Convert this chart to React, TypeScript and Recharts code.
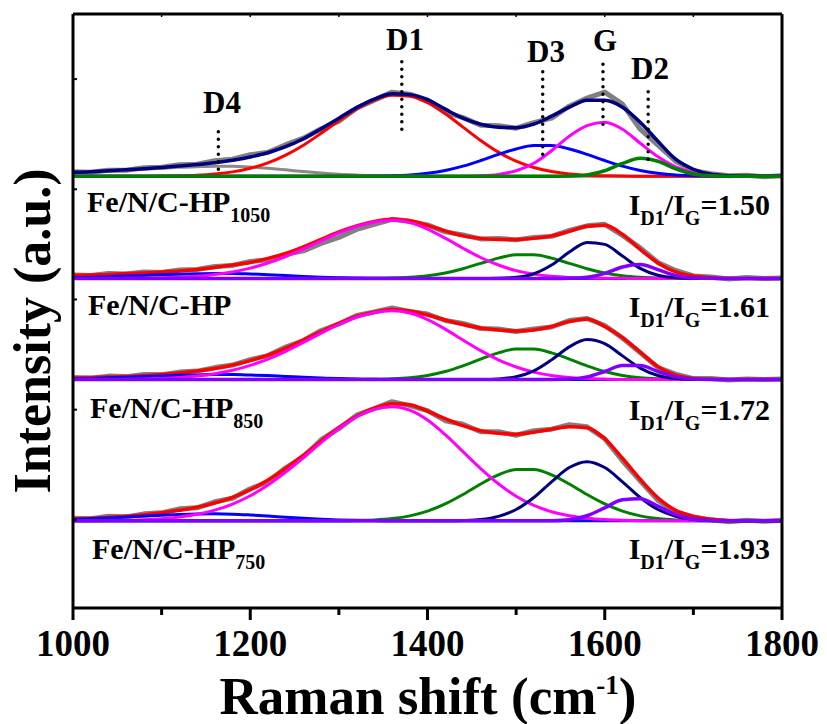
import { LineChart, Line, XAxis, YAxis, ReferenceLine } from "recharts"

// Raman shift grid (cm-1), one reading every 20 cm-1
const shift = [
  1000, 1020, 1040, 1060, 1080, 1100, 1120, 1140, 1160, 1180, 1200, 1220, 1240, 1260,
  1280, 1300, 1320, 1340, 1360, 1380, 1400, 1420, 1440, 1460, 1480, 1500, 1520, 1540,
  1560, 1580, 1600, 1620, 1640, 1660, 1680, 1700, 1720, 1740, 1760, 1780, 1800,
]

// Fe/N/C-HP1050
const hp1050Raw = [4.5, 4, 6, 6, 8.5, 9, 11.5, 12, 15.5, 17, 21.5, 24, 31.5, 38, 47.5, 55, 68, 76, 84, 82, 76, 64, 58.5, 51, 50.5, 48, 53.5, 58, 70, 78, 84, 72, 47, 31, 15, 5.5, 2.5, 0.5, 1, -0.5, 0.5]
const hp1050Fit = [4, 4.5, 5.5, 6.5, 7.5, 8.8, 10.2, 11.7, 13.5, 16, 19.3, 23.5, 29.5, 37.5, 47.5, 58, 68.5, 77, 82.5, 81.5, 76.5, 67, 58, 52, 49, 48.5, 52, 60, 69, 76, 76, 69, 54, 35, 17, 7, 2, 0.5, 0.1, 0, 0]
const hp1050D4 = [3, 4, 5, 6, 7, 8, 9, 9.6, 10, 10, 9.3, 8, 6.4, 4.7, 3.2, 2, 1.2, 0.6, 0.3, 0.1, 0, 0, 0, 0, 0, 0, 0, 0, 0, 0, 0, 0, 0, 0, 0, 0, 0, 0, 0, 0, 0]
const hp1050D1 = [0, 0, 0, 0, 0.1, 0.2, 0.5, 1.1, 2.3, 4.4, 8, 13.4, 21.1, 31, 42.9, 55.4, 67.1, 76, 81, 80, 73.4, 62.4, 49.1, 35.8, 24.1, 15.1, 8.7, 4.7, 2.3, 1.1, 0.5, 0.2, 0.1, 0, 0, 0, 0, 0, 0, 0, 0]
const hp1050D3 = [0, 0, 0, 0, 0, 0, 0, 0, 0, 0, 0, 0, 0, 0, 0, 0, 0.1, 0.2, 0.6, 1.3, 3, 5.8, 10.1, 15.7, 21.9, 27.3, 30.6, 30.6, 27.3, 21.9, 15.7, 10.1, 5.8, 3, 1.3, 0.6, 0.2, 0.1, 0, 0, 0]
const hp1050G = [0, 0, 0, 0, 0, 0, 0, 0, 0, 0, 0, 0, 0, 0, 0, 0, 0, 0, 0, 0, 0, 0, 0.1, 0.5, 1.9, 5.5, 13, 25.5, 40, 50.5, 54, 47, 33, 19.5, 9.5, 3.7, 1.2, 0.3, 0.1, 0, 0]
const hp1050D2 = [0, 0, 0, 0, 0, 0, 0, 0, 0, 0, 0, 0, 0, 0, 0, 0, 0, 0, 0, 0, 0, 0, 0, 0, 0, 0, 0, 0, 0.2, 1.4, 5.5, 12.8, 18, 15, 7.5, 2.3, 0.4, 0.1, 0, 0, 0]

// Fe/N/C-HP
const hpRaw = [3.5, 3, 5, 4.5, 6.5, 6, 8.5, 9, 12, 13, 17, 18.5, 24, 27.5, 35, 41, 49, 54, 59, 57, 53.5, 46.5, 43.5, 39.5, 40, 38.5, 41, 42, 48, 52.5, 54, 43, 30.5, 16, 8, 2.5, 1.5, -0.5, 1, 0, 0.5]
const hpFit = [3, 3.5, 4, 5, 5.5, 6.5, 7.5, 9, 11, 13.5, 16, 20, 25, 31.5, 39, 46.5, 52.5, 57, 59, 57.5, 53, 47.5, 42.5, 40, 39, 39, 40, 42.5, 47, 52, 53, 44, 29, 15.5, 6.5, 2.5, 0.8, 0.2, 0, 0, 0]
const hpD4 = [0.8, 1.2, 1.8, 2.4, 3, 3.7, 4.3, 4.7, 5, 5, 4.5, 3.8, 3, 2, 1.3, 0.8, 0.4, 0.2, 0.1, 0, 0, 0, 0, 0, 0, 0, 0, 0, 0, 0, 0, 0, 0, 0, 0, 0, 0, 0, 0, 0, 0]
const hpD1 = [0, 0, 0, 0.1, 0.3, 0.6, 1.2, 2.2, 3.9, 6.5, 10.3, 15.4, 21.9, 29.5, 37.6, 45.5, 52, 56.4, 58, 55.7, 49.3, 40.2, 30.2, 20.9, 13.4, 7.8, 4.3, 2.1, 1, 0.4, 0.2, 0.1, 0, 0, 0, 0, 0, 0, 0, 0, 0]
const hpD3 = [0, 0, 0, 0, 0, 0, 0, 0, 0, 0, 0, 0, 0, 0, 0, 0, 0, 0.1, 0.4, 1.1, 2.6, 5.4, 9.7, 15.1, 20.3, 23.6, 23.6, 20.3, 15.1, 9.7, 5.4, 2.6, 1.1, 0.4, 0.1, 0, 0, 0, 0, 0, 0]
const hpG = [0, 0, 0, 0, 0, 0, 0, 0, 0, 0, 0, 0, 0, 0, 0, 0, 0, 0, 0, 0, 0, 0, 0, 0, 0.2, 1.1, 4.7, 13.4, 26.3, 36, 34, 22.3, 10.1, 3.2, 0.7, 0.1, 0, 0, 0, 0, 0]
const hpD2 = [0, 0, 0, 0, 0, 0, 0, 0, 0, 0, 0, 0, 0, 0, 0, 0, 0, 0, 0, 0, 0, 0, 0, 0, 0, 0, 0, 0, 0.1, 1.1, 5, 11.4, 13.8, 8.8, 3, 0.5, 0.1, 0, 0, 0, 0]

// Fe/N/C-HP850
const hp850Raw = [2, 1.5, 3.5, 3, 5, 5, 7.5, 8.5, 12, 14.5, 20, 24, 32.5, 39, 49, 55.5, 64, 67.5, 71.5, 68, 65.5, 59, 56, 51, 50.5, 48, 50.5, 52.5, 59, 61, 54, 41.5, 27, 12, 5.5, 1, 1, -0.5, 0.5, 0, 0.5]
const hp850Fit = [1.5, 2, 2.5, 3, 4, 5, 6.5, 8.5, 11, 14.5, 19, 24.5, 31.5, 39.5, 48, 56.2, 63, 67.5, 70, 68.5, 64.5, 59.5, 55, 51.5, 49.5, 48.5, 49.5, 53, 58, 60.5, 53, 42, 27.5, 13, 4.5, 1.2, 0.3, 0, 0, 0, 0]
const hp850D4 = [0.8, 1.2, 1.8, 2.4, 3, 3.7, 4.3, 4.7, 5, 5, 4.6, 4, 3.2, 2.3, 1.6, 1, 0.6, 0.3, 0.1, 0, 0, 0, 0, 0, 0, 0, 0, 0, 0, 0, 0, 0, 0, 0, 0, 0, 0, 0, 0, 0, 0]
const hp850D1 = [0, 0.1, 0.1, 0.3, 0.5, 1.1, 2, 3.5, 5.8, 9.3, 14.2, 20.5, 28.3, 37.1, 46.4, 55.1, 62.3, 67.1, 68.8, 66.5, 59.9, 50.4, 39.5, 28.9, 19.8, 12.6, 7.5, 4.2, 2.2, 1, 0.5, 0.2, 0.1, 0, 0, 0, 0, 0, 0, 0, 0]
const hp850D3 = [0, 0, 0, 0, 0, 0, 0, 0, 0, 0, 0, 0, 0, 0, 0, 0, 0.1, 0.3, 0.8, 1.9, 4.2, 8.1, 13.8, 20.5, 26.7, 30.5, 30.5, 26.7, 20.5, 13.8, 8.1, 4.2, 1.9, 0.8, 0.3, 0.1, 0, 0, 0, 0, 0]
const hp850G = [0, 0, 0, 0, 0, 0, 0, 0, 0, 0, 0, 0, 0, 0, 0, 0, 0, 0, 0, 0, 0, 0, 0, 0.1, 0.7, 2.8, 8.7, 19.7, 32.7, 40, 35.9, 23.7, 11.5, 4.1, 1.1, 0.2, 0, 0, 0, 0, 0]
const hp850D2 = [0, 0, 0, 0, 0, 0, 0, 0, 0, 0, 0, 0, 0, 0, 0, 0, 0, 0, 0, 0, 0, 0, 0, 0, 0, 0, 0, 0.1, 0.5, 2.7, 8.1, 14, 14, 8.1, 2.7, 0.5, 0.1, 0, 0, 0, 0]

// Fe/N/C-HP750
const hp750Raw = [2.5, 2, 4.5, 4, 7, 8, 12, 13, 19, 22.5, 32, 39, 53, 64, 81, 92, 105.5, 112, 119, 115, 110, 100, 96.5, 89, 89, 85.5, 90, 91.5, 96, 94, 82, 60, 40, 20.5, 9, 4, 1, -1, 0.5, -0.5, 0.5]
const hp750Fit = [2, 2.5, 3.5, 4.5, 6, 8, 10.5, 13.5, 17.8, 23.5, 31, 40.7, 52.3, 65.6, 79.7, 93.2, 104.5, 112.5, 117, 116, 109.5, 102, 95, 90, 87.5, 86.5, 88.5, 91.5, 94, 93, 82, 62.5, 41.5, 23, 10.5, 4.5, 1.5, 0.4, 0, 0, 0]
const hp750D4 = [1.4, 2.1, 2.9, 3.8, 4.7, 5.6, 6.3, 6.8, 7, 6.7, 5.9, 4.9, 3.6, 2.5, 1.6, 0.9, 0.5, 0.3, 0.1, 0, 0, 0, 0, 0, 0, 0, 0, 0, 0, 0, 0, 0, 0, 0, 0, 0, 0, 0, 0, 0, 0]
const hp750D1 = [0.1, 0.1, 0.3, 0.6, 1.1, 2.1, 3.8, 6.5, 10.7, 16.8, 25.1, 35.8, 48.7, 63.1, 78.1, 92.2, 103.7, 111.3, 114, 110.5, 100.6, 86, 69.1, 52.2, 37, 24.6, 15.4, 9.1, 5, 2.6, 1.3, 0.6, 0.2, 0.1, 0, 0, 0, 0, 0, 0, 0]
const hp750D3 = [0, 0, 0, 0, 0, 0, 0, 0, 0, 0, 0, 0, 0, 0, 0, 0.1, 0.3, 0.9, 2.3, 5, 9.7, 16.9, 26.3, 36.8, 45.9, 51.3, 51.3, 45.9, 36.8, 26.3, 16.9, 9.7, 5, 2.3, 0.9, 0.3, 0.1, 0, 0, 0, 0]
const hp750G = [0, 0, 0, 0, 0, 0, 0, 0, 0, 0, 0, 0, 0, 0, 0, 0, 0, 0, 0, 0, 0, 0.1, 0.4, 1.4, 4.5, 11.3, 23.3, 39, 53.2, 59, 53.2, 39, 23.3, 11.3, 4.5, 1.4, 0.4, 0.1, 0, 0, 0]
const hp750D2 = [0, 0, 0, 0, 0, 0, 0, 0, 0, 0, 0, 0, 0, 0, 0, 0, 0, 0, 0, 0, 0, 0, 0, 0, 0, 0, 0, 0.2, 1.2, 5.1, 13, 21.1, 22, 14.7, 6.3, 1.8, 0.3, 0, 0, 0, 0]

const sampleNames = ["Fe/N/C-HP", "Fe/N/C-HP", "Fe/N/C-HP", "Fe/N/C-HP"]
const sampleSubs = ["1050", "", "850", "750"]
const idRatios = [1.5, 1.61, 1.72, 1.93]

const peakNames = ["D4", "D1", "D3", "G", "D2"]
const peakShift = [1164, 1371, 1530, 1598, 1649]

const xTicks = [1000, 1100, 1200, 1300, 1400, 1500, 1600, 1700, 1800]
const yTicks = [88, 198, 308, 418, 528]

const FONT = "\"Liberation Serif\", \"Times New Roman\", serif"
const W = 827
const H = 724

type Curve = "monotone" | "linear"

interface Trace {
  key: string
  values: number[]
  color: string
  width: number
  curve?: Curve
}

interface Panel {
  id: string
  offset: number
  traces: Trace[]
}

// spectra are stacked: each one sits on its own baseline in a 0..593 intensity frame
const panels: Panel[] = [
  {
    id: "hp1050",
    offset: 431,
    traces: [
      { key: "raw", values: hp1050Raw, color: "#808080", width: 5, curve: "linear" },
      { key: "d4", values: hp1050D4, color: "#8a8a8a", width: 3 },
      { key: "d1", values: hp1050D1, color: "#ff0000", width: 3 },
      { key: "d3", values: hp1050D3, color: "#0000ff", width: 3 },
      { key: "g", values: hp1050G, color: "#ff00ff", width: 3 },
      { key: "fit", values: hp1050Fit, color: "#000080", width: 3.5 },
      { key: "d2", values: hp1050D2, color: "#008000", width: 3.5 },
    ],
  },
  {
    id: "hp",
    offset: 329,
    traces: [
      { key: "raw", values: hpRaw, color: "#808080", width: 5, curve: "linear" },
      { key: "fit", values: hpFit, color: "#ff0000", width: 3.5 },
      { key: "d4", values: hpD4, color: "#0000ff", width: 3 },
      { key: "d3", values: hpD3, color: "#008000", width: 3 },
      { key: "d1", values: hpD1, color: "#ff00ff", width: 3 },
      { key: "g", values: hpG, color: "#000080", width: 3 },
      { key: "d2", values: hpD2, color: "#8000ff", width: 3.5 },
    ],
  },
  {
    id: "hp850",
    offset: 228,
    traces: [
      { key: "raw", values: hp850Raw, color: "#808080", width: 5, curve: "linear" },
      { key: "fit", values: hp850Fit, color: "#ff0000", width: 3.5 },
      { key: "d4", values: hp850D4, color: "#0000ff", width: 3 },
      { key: "d3", values: hp850D3, color: "#008000", width: 3 },
      { key: "d1", values: hp850D1, color: "#ff00ff", width: 3 },
      { key: "g", values: hp850G, color: "#000080", width: 3 },
      { key: "d2", values: hp850D2, color: "#8000ff", width: 3.5 },
    ],
  },
  {
    id: "hp750",
    offset: 87,
    traces: [
      { key: "raw", values: hp750Raw, color: "#808080", width: 5, curve: "linear" },
      { key: "fit", values: hp750Fit, color: "#ff0000", width: 3.5 },
      { key: "d4", values: hp750D4, color: "#0000ff", width: 3 },
      { key: "d3", values: hp750D3, color: "#008000", width: 3 },
      { key: "d1", values: hp750D1, color: "#ff00ff", width: 3 },
      { key: "g", values: hp750G, color: "#000080", width: 3 },
      { key: "d2", values: hp750D2, color: "#8000ff", width: 3.5 },
    ],
  },
]

const chartData = shift.map((x, i) => {
  const row: Record<string, number> = { x }
  for (const p of panels) {
    for (const t of p.traces) {
      row[`${p.id}_${t.key}`] = p.offset + t.values[i]
    }
  }
  return row
})

// dotted markers above the top spectrum: [bottom, top] in chart units
const peakMarkRange = [
  [438, 482],
  [478, 548],
  [453, 539],
  [483, 544],
  [448, 517],
]

// label placement in page pixels
const peakLabelPos = [
  { x: 222, y: 113 },
  { x: 405, y: 50 },
  { x: 546, y: 62 },
  { x: 605, y: 51 },
  { x: 650, y: 79 },
]
const sampleLabelPos = [
  { x: 87, y: 212 },
  { x: 88, y: 315 },
  { x: 90, y: 418 },
  { x: 92, y: 559 },
]
const ratioBaseline = [215, 317, 420, 559]

const axisStroke = { stroke: "#000", strokeWidth: 3 }

function ShiftTick(props: any) {
  const { x, y, payload } = props
  const major = payload.value % 200 === 0
  return (
    <g>
      <line x1={x} x2={x} y1={y} y2={y + (major ? 12 : 7)} stroke="#000" strokeWidth={3} />
      {major && (
        <text x={x} y={y + 48} textAnchor="middle" style={{ fontFamily: FONT, fontWeight: "bold", fontSize: 37 }} fill="#000">
          {payload.value}
        </text>
      )}
    </g>
  )
}

function NoLabel() {
  return <g />
}

function Annotations() {
  return (
    <svg
      width={W}
      height={H}
      style={{ position: "absolute", left: 0, top: 0, pointerEvents: "none", fontFamily: FONT, fontWeight: "bold" }}
      fill="#000"
    >
      {peakNames.map((name, i) => (
        <text key={name} x={peakLabelPos[i].x} y={peakLabelPos[i].y} textAnchor="middle" fontSize={31}>
          {name}
        </text>
      ))}

      {sampleNames.map((name, i) => (
        <text key={"s" + i} x={sampleLabelPos[i].x} y={sampleLabelPos[i].y} fontSize={30}>
          {name}
          {sampleSubs[i] && (
            <tspan fontSize={20} dy={10}>
              {sampleSubs[i]}
            </tspan>
          )}
        </text>
      ))}

      {idRatios.map((r, i) => (
        <text key={"r" + i} x={770} y={ratioBaseline[i]} textAnchor="end" fontSize={30}>
          I
          <tspan fontSize={20} dy={10}>D1</tspan>
          <tspan dy={-10}>/I</tspan>
          <tspan fontSize={20} dy={10}>G</tspan>
          <tspan dy={-10}>={r.toFixed(2)}</tspan>
        </text>
      ))}

      <text transform="translate(50,331) rotate(-90)" textAnchor="middle" fontSize={52}>
        Intensity (a.u.)
      </text>
      <text x={428} y={714} textAnchor="middle" fontSize={53}>
        Raman shift (cm
        <tspan fontSize={27} dy={-20}>-1</tspan>
        <tspan dy={20}>)</tspan>
      </text>
    </svg>
  )
}

export default function App() {
  return (
    <div style={{ position: "absolute", left: 0, top: 0, width: W, height: H, background: "#fff" }}>
      <LineChart width={W} height={H} data={chartData} margin={{ top: 14, right: 44, bottom: 76, left: 73 }}>
        <XAxis
          dataKey="x"
          type="number"
          domain={[1000, 1800]}
          ticks={xTicks}
          interval={0}
          height={40}
          axisLine={axisStroke}
          tickLine={false}
          tickSize={0}
          tickMargin={0}
          tick={ShiftTick}
        />
        <XAxis
          xAxisId="top"
          orientation="top"
          dataKey="x"
          type="number"
          domain={[1000, 1800]}
          ticks={xTicks}
          interval={0}
          height={1}
          mirror
          axisLine={axisStroke}
          tickLine={{ stroke: "#000", strokeWidth: 1.5 }}
          tickSize={3}
          tick={NoLabel}
        />
        <YAxis
          type="number"
          domain={[0, 593]}
          ticks={yTicks}
          interval={0}
          width={1}
          mirror
          axisLine={axisStroke}
          tickLine={{ stroke: "#000", strokeWidth: 2 }}
          tickSize={4}
          tick={NoLabel}
        />
        <YAxis
          yAxisId="right"
          orientation="right"
          type="number"
          domain={[0, 593]}
          ticks={yTicks}
          interval={0}
          width={1}
          axisLine={axisStroke}
          tickLine={{ stroke: "#000", strokeWidth: 2 }}
          tickSize={4}
          tick={NoLabel}
        />

        {panels.flatMap((p) =>
          p.traces.map((t) => (
            <Line
              key={`${p.id}_${t.key}`}
              dataKey={`${p.id}_${t.key}`}
              type={t.curve ?? "monotone"}
              stroke={t.color}
              strokeWidth={t.width}
              strokeLinejoin="round"
              dot={false}
              activeDot={false}
              isAnimationActive={false}
            />
          ))
        )}

        {peakShift.map((s, i) => (
          <ReferenceLine
            key={peakNames[i]}
            segment={[
              { x: s, y: peakMarkRange[i][0] },
              { x: s, y: peakMarkRange[i][1] },
            ]}
            stroke="#000"
            strokeWidth={3.5}
            strokeDasharray="0 7.5"
            strokeLinecap="round"
          />
        ))}
      </LineChart>
      <Annotations />
    </div>
  )
}
